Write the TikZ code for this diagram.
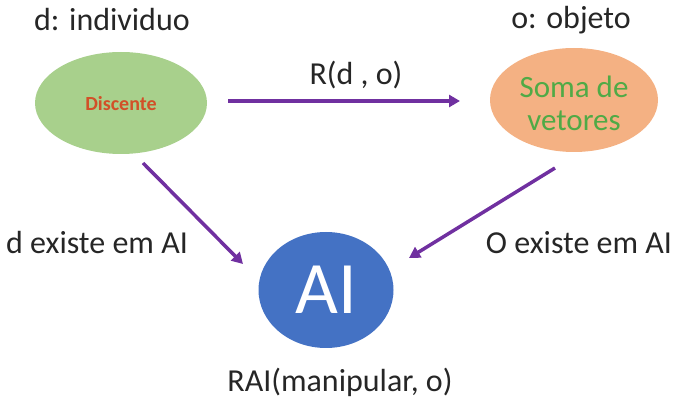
\documentclass[tikz,border=0pt]{standalone}
\usepackage{fontspec}
\setmainfont{Carlito}
\usetikzlibrary{arrows.meta,shapes.geometric}
\definecolor{arr}{RGB}{112,48,160}
\definecolor{gfill}{RGB}{168,208,140}
\definecolor{ofill}{RGB}{244,177,131}
\definecolor{aiblue}{RGB}{68,114,196}
\definecolor{redtxt}{RGB}{210,80,40}
\definecolor{greentxt}{RGB}{80,170,70}
\begin{document}
\begin{tikzpicture}[x=1pt,y=-1pt,
  lbl/.style={inner sep=0pt,font=\fontsize{32}{36}\selectfont,text=black!85},
  link/.style={draw=arr,line width=3.5pt,-{Triangle[length=11pt,width=12pt]}}]
\useasboundingbox (0,0) rectangle (673,403);
\node[ellipse,fill=gfill,minimum width=172pt,minimum height=102pt,inner sep=0pt] (dis) at (121,103) {};
\node[font=\bfseries\fontsize{20}{24}\selectfont,text=redtxt] (distxt) at (121,104) {Discente};
\node[ellipse,fill=ofill,minimum width=168pt,minimum height=104pt,inner sep=0pt] (obj) at (574,100) {};
\node[align=center,font=\fontsize{31}{33}\selectfont,text=greentxt] (objtxt) at (574,103) {Soma de\\vetores};
\node[ellipse,fill=aiblue,minimum width=135pt,minimum height=116pt,inner sep=0pt,text=white,font=\fontsize{74}{80}\selectfont] (ai) at (326,290) {AI};
\node[lbl] (dind) at (112,20) {d: individuo};
\node[lbl] (oobj) at (571,20) {o: objeto};
\node[lbl] (rdo) at (356,75) {R(d , o)};
\node[lbl] (dex) at (97,243) {d existe em AI};
\node[lbl] (oex) at (579,243) {O existe em AI};
\node[lbl] (rai) at (340,382) {RAI(manipular, o)};
\coordinate (a1) at (228,101);
\coordinate (a2) at (460,101);
\coordinate (b1) at (143,163);
\coordinate (b2) at (243,264);
\coordinate (c1) at (555,168);
\coordinate (c2) at (409,258);
\draw[link] (a1) -- (a2);
\draw[link] (b1) -- (b2);
\draw[link] (c1) -- (c2);
\end{tikzpicture}
\end{document}
